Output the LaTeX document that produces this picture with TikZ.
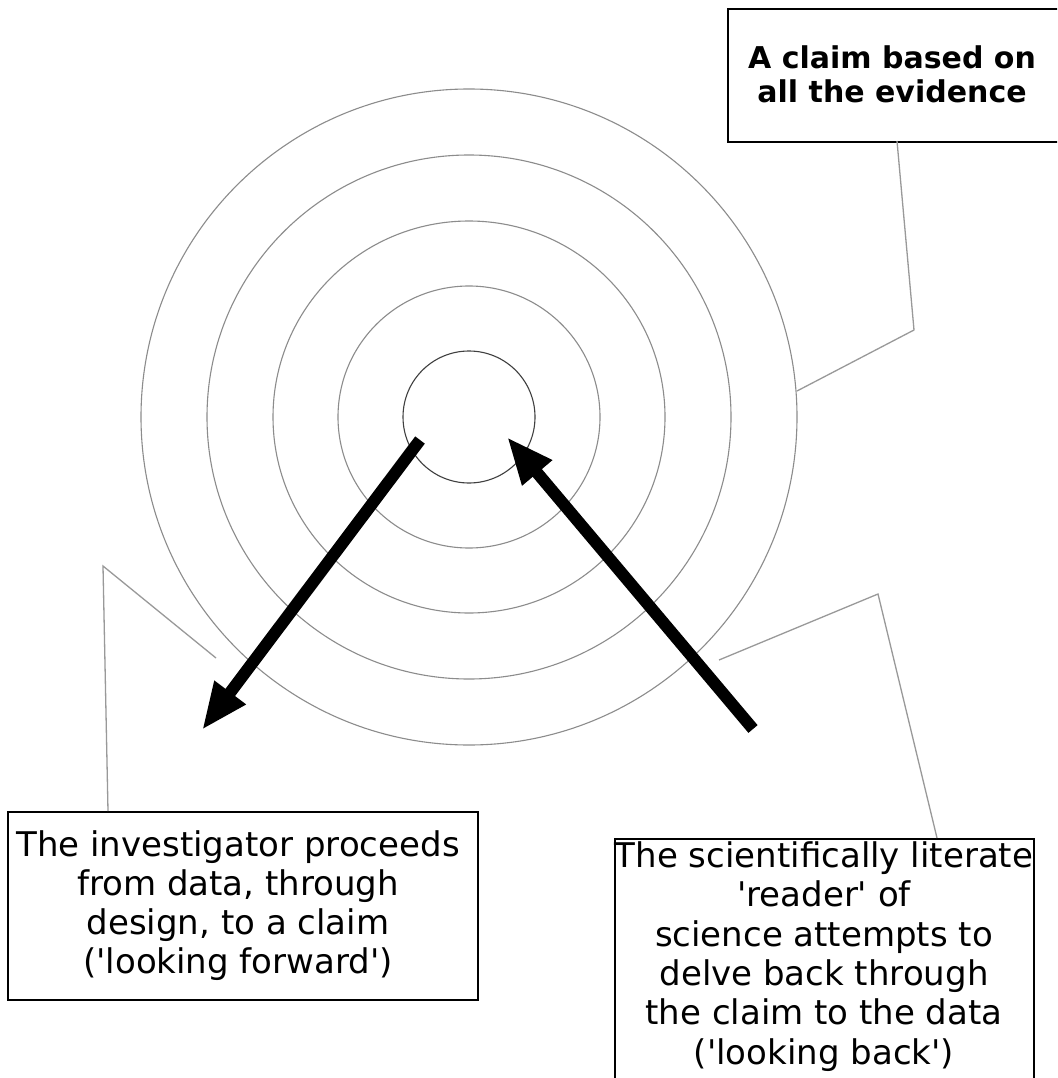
\documentclass[tikz,border=0pt]{standalone}
\usepackage{fontspec}
\setmainfont{DejaVu Sans}
\usetikzlibrary{arrows.meta}
\begin{document}
\begin{tikzpicture}[x=1pt,y=-1pt,
  ring/.style={draw=black!45, line width=1.1pt},
  corering/.style={draw=black!75, line width=1.1pt},
  leader/.style={draw=black!40, line width=1.3pt},
  bigarrow/.style={line width=12pt, -{Triangle[length=47pt,width=36pt]}},
  frame/.style={draw=black, line width=2pt, inner sep=0pt, fill=none},
  bodytext/.style={align=center, inner sep=0pt, font=\fontsize{34}{38.9}\selectfont},
  backtextstyle/.style={align=center, inner sep=0pt, font=\fontsize{34}{39.3}\selectfont},
  boldtext/.style={align=center, inner sep=0pt, font=\bfseries\fontsize{30}{34}\selectfont},
]
\clip (0,0) rectangle (1057,1078);
\fill[white] (0,0) rectangle (1057,1078);

% concentric circles
\coordinate (centre) at (469,417);
\draw[ring] (centre) circle[radius=328pt];
\draw[ring] (centre) circle[radius=262pt];
\draw[ring] (centre) circle[radius=196pt];
\draw[ring] (centre) circle[radius=131pt];
\draw[corering] (centre) circle[radius=66pt];

% boxes
\node[frame, anchor=north west, minimum width=333pt, minimum height=133pt] (claimbox) at (727,8) {};
\node[frame, anchor=north west, minimum width=470pt, minimum height=188pt] (fwdbox) at (7,811) {};
\node[frame, anchor=north west, minimum width=419pt, minimum height=260pt] (backbox) at (614,838) {};

% texts
\node[boldtext, anchor=north] (claimtext) at (892,45.7) {A claim based on\\all the evidence};
\node[bodytext, anchor=north] (fwdtext) at (238,830.5) {The investigator proceeds\\from data, through\\design, to a claim\\(\textquotesingle looking forward\textquotesingle)};
\node[backtextstyle, anchor=north] (backtext) at (824,841.5) {The scientifically literate\\\textquotesingle reader\textquotesingle{} of\\science attempts to\\delve back through\\the claim to the data\\(\textquotesingle looking back\textquotesingle)};

% leader lines
\coordinate (cl1) at (897,141);
\coordinate (cl2) at (914,330);
\coordinate (cl3) at (797,391);
\draw[leader] (cl1) -- (cl2) -- (cl3);

\coordinate (fw1) at (108,811);
\coordinate (fw2) at (103,566);
\coordinate (fw3) at (216,658);
\draw[leader] (fw1) -- (fw2) -- (fw3);

\coordinate (bk1) at (937,838);
\coordinate (bk2) at (878,594);
\coordinate (bk3) at (719,660);
\draw[leader] (bk1) -- (bk2) -- (bk3);

% thick arrows
\coordinate (fwtail) at (420,440);
\coordinate (fwtip) at (202,730);
\draw[bigarrow] (fwtail) -- (fwtip);

\coordinate (bktail) at (753,729);
\coordinate (bktip) at (507,437);
\draw[bigarrow] (bktail) -- (bktip);
\end{tikzpicture}
\end{document}
